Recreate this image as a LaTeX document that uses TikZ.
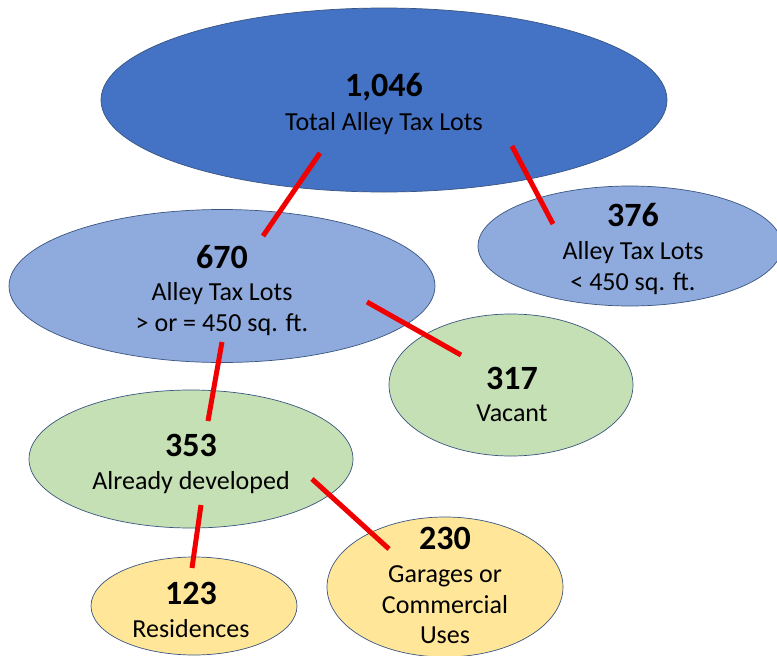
\documentclass[tikz,border=0pt]{standalone}
\usepackage{fontspec}
\setmainfont{Carlito}
\usetikzlibrary{shapes.geometric}
\definecolor{bluedark}{HTML}{4472C4}
\definecolor{bluelight}{HTML}{8FAADC}
\definecolor{greenl}{HTML}{C5E0B4}
\definecolor{yellowl}{HTML}{FFE699}
\definecolor{edgec}{HTML}{3A5580}
\definecolor{linkred}{HTML}{F00000}
\tikzset{
  blob/.style={ellipse, draw=edgec, line width=0.7pt, inner sep=0pt},
  numtxt/.style={anchor=base, inner sep=0pt, font=\fontsize{34}{36}\selectfont\bfseries, text=black},
  labtxt/.style={anchor=base, inner sep=0pt, font=\fontsize{26}{30}\selectfont, text=black},
  link/.style={draw=linkred, line width=5pt}
}
\begin{document}
\begin{tikzpicture}[x=1pt,y=-1pt]
\useasboundingbox (0,0) rectangle (777,656);
% ellipses
\node[blob, fill=bluedark, minimum width=566pt, minimum height=184pt] (top) at (384,100) {};
\node[blob, fill=bluelight, minimum width=304pt, minimum height=120pt] (e376) at (630,246) {};
\node[blob, fill=bluelight, minimum width=426pt, minimum height=153pt] (e670) at (222,286) {};
\node[blob, fill=greenl, minimum width=244pt, minimum height=142pt] (e317) at (511,385) {};
\node[blob, fill=greenl, minimum width=324pt, minimum height=138pt] (e353) at (191,459) {};
\node[blob, fill=yellowl, minimum width=206pt, minimum height=98pt] (e123) at (194,606) {};
\node[blob, fill=yellowl, minimum width=236pt, minimum height=140pt] (e230) at (445,587) {};
% texts
\node[numtxt] (n1046) at (384,96) {1,046};
\node[labtxt] (t1046) at (384,130) {Total Alley Tax Lots};
\node[numtxt] (n376) at (633,226) {376};
\node[labtxt] (t376a) at (633,259) {Alley Tax Lots};
\node[labtxt] (t376b) at (633,290) {< 450 sq. ft.};
\node[numtxt] (n670) at (222,268) {670};
\node[labtxt] (t670a) at (222,300) {Alley Tax Lots};
\node[labtxt] (t670b) at (222,331) {> or = 450 sq. ft.};
\node[numtxt] (n317) at (512,389) {317};
\node[labtxt] (t317) at (512,421) {Vacant};
\node[numtxt] (n353) at (191,456) {353};
\node[labtxt] (t353) at (191,489) {Already developed};
\node[numtxt] (n123) at (191,604) {123};
\node[labtxt] (t123) at (191,637) {Residences};
\node[numtxt] (n230) at (445,549) {230};
\node[labtxt] (t230a) at (445,582) {Garages or};
\node[labtxt] (t230b) at (445,613) {Commercial};
\node[labtxt] (t230c) at (445,643) {Uses};
% connector ends
\coordinate (a1) at ([shift={(-64,53)}]top.center);
\coordinate (b1) at ([shift={(41,-50)}]e670.center);
\coordinate (a2) at ([shift={(128,46)}]top.center);
\coordinate (b2) at ([shift={(-77,-22)}]e376.center);
\coordinate (a3) at ([shift={(145,16)}]e670.center);
\coordinate (b3) at ([shift={(-50,-30)}]e317.center);
\coordinate (a4) at ([shift={(0,56)}]e670.center);
\coordinate (b4) at ([shift={(17,-38)}]e353.center);
\coordinate (a5) at ([shift={(121,20)}]e353.center);
\coordinate (b5) at ([shift={(-56,-38)}]e230.center);
\coordinate (a6) at ([shift={(10,46)}]e353.center);
\coordinate (b6) at ([shift={(-2,-38)}]e123.center);
% connectors
\draw[link] (a1) -- (b1);
\draw[link] (a2) -- (b2);
\draw[link] (a3) -- (b3);
\draw[link] (a4) -- (b4);
\draw[link] (a5) -- (b5);
\draw[link] (a6) -- (b6);
\end{tikzpicture}
\end{document}
